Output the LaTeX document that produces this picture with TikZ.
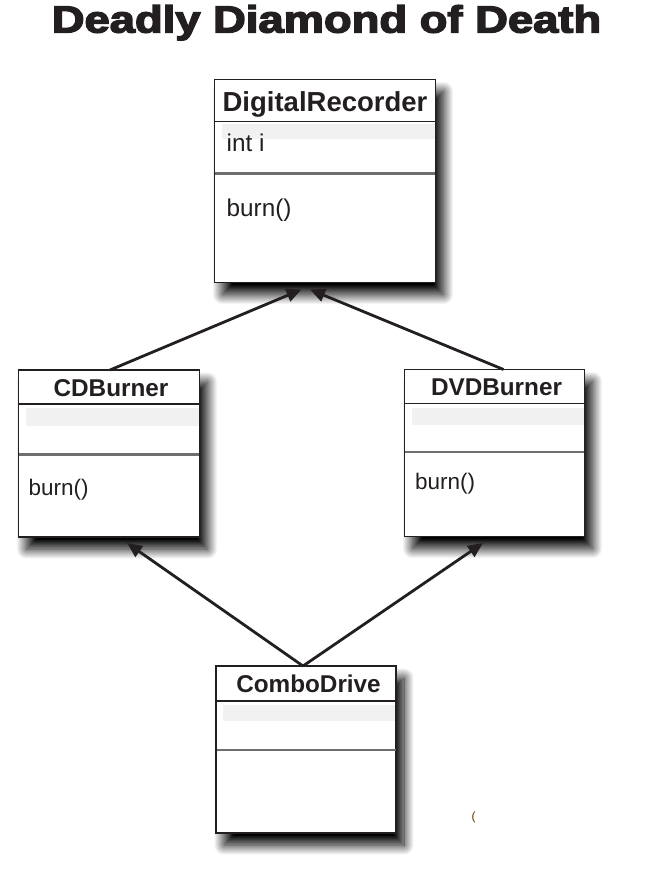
\documentclass[tikz,border=0pt]{standalone}
\usepackage{fontspec}
\setmainfont{Liberation Sans}
\newfontfamily\titlefont[FakeBold=3.5]{Liberation Sans Bold}
\usetikzlibrary{arrows.meta,shadows.blur}
\definecolor{ink}{HTML}{231F20}
\definecolor{sepgray}{HTML}{6E6E6E}
\definecolor{bandgray}{HTML}{F1F1F1}
\tikzset{
  umlbox/.style={rectangle, draw=ink, line width=1.2pt, fill=white, anchor=north west,
    inner sep=0pt, outer sep=0pt,
    blur shadow={shadow xshift=8pt, shadow yshift=-12pt, shadow blur radius=10pt,
      shadow blur steps=20, shadow opacity=100}},
  hdrline/.style={draw=ink, line width=1.8pt},
  sepline/.style={draw=sepgray, line width=2.2pt},
  band/.style={fill=bandgray, draw=none},
  bigclassname/.style={font=\bfseries\fontsize{27.5}{30}\selectfont, text=ink, anchor=base, inner sep=0pt},
  classname/.style={font=\bfseries\fontsize{24.3}{27}\selectfont, text=ink, anchor=base, inner sep=0pt},
  bigmember/.style={font=\fontsize{24.3}{27}\selectfont, text=ink, anchor=base west, inner sep=0pt},
  member/.style={font=\fontsize{22.5}{25}\selectfont, text=ink, anchor=base west, inner sep=0pt},
  inherit/.style={draw=ink, line width=2.8pt, -{Triangle[length=15pt,width=13pt]}},
}
\begin{document}
\begin{tikzpicture}[x=1pt,y=-1pt]
\useasboundingbox (0,0) rectangle (659,873);

% title
\node[font=\titlefont\fontsize{36}{40}\selectfont, text=ink, anchor=base, inner sep=0pt]
  (title) at (326.5,32.5) {\scalebox{1.26}[1.05]{Deadly Diamond of Death}};

% DigitalRecorder
\node[umlbox, minimum width=221pt, minimum height=203pt] (dr) at (214.5,79.5) {};
\fill[band] (222,124) rectangle (434.5,139);
\draw[hdrline] (214.5,121.5) -- (435.5,121.5);
\draw[sepline] (215,173.5) -- (435,173.5);
\node[bigclassname] (drname) at (325,111.5) {DigitalRecorder};
\node[bigmember] (drattr) at (226.5,151.5) {int i};
\node[bigmember] (drop) at (226.5,216.5) {burn()};

% CDBurner
\node[umlbox, minimum width=181pt, minimum height=167pt] (cd) at (18.5,370) {};
\fill[band] (26,408) rectangle (198.5,426);
\draw[hdrline] (18.5,404) -- (199.5,404);
\draw[sepline] (19,454.5) -- (199,454.5);
\node[classname] (cdname) at (111,396.5) {CDBurner};
\node[member] (cdop) at (28.5,495) {burn()};

% DVDBurner
\node[umlbox, minimum width=180pt, minimum height=167pt] (dvd) at (404.5,369.5) {};
\fill[band] (412,407.5) rectangle (583.5,425);
\draw[hdrline] (404.5,403.5) -- (584.5,403.5);
\draw[sepline] (405,452) -- (584,452);
\node[classname] (dvdname) at (496.5,395) {DVDBurner};
\node[member] (dvdop) at (415,489.5) {burn()};

% ComboDrive
\node[umlbox, minimum width=180pt, minimum height=167pt] (cb) at (216,666) {};
\fill[band] (223,705) rectangle (395,721);
\draw[hdrline] (216,701) -- (396,701);
\draw[sepline] (216.5,750) -- (395.5,750);
\node[classname] (cbname) at (308.5,692.5) {ComboDrive};

% stray mark
\node[font=\fontsize{12}{12}\selectfont, text=black!60!orange, anchor=base, inner sep=0pt]
  (mark) at (473.5,820) {(};

% inheritance connectors
\draw[inherit] ([xshift=1pt]cd.north) -- ([xshift=-23.5pt,yshift=-7pt]dr.south);
\draw[inherit] ([xshift=9pt]dvd.north) -- ([xshift=-15pt,yshift=-7pt]dr.south);
\draw[inherit] ([xshift=-3pt]cb.north) -- ([xshift=18pt,yshift=-6pt]cd.south);
\draw[inherit] ([xshift=-3pt]cb.north) -- ([xshift=-11.5pt,yshift=-6.5pt]dvd.south);
\end{tikzpicture}
\end{document}
